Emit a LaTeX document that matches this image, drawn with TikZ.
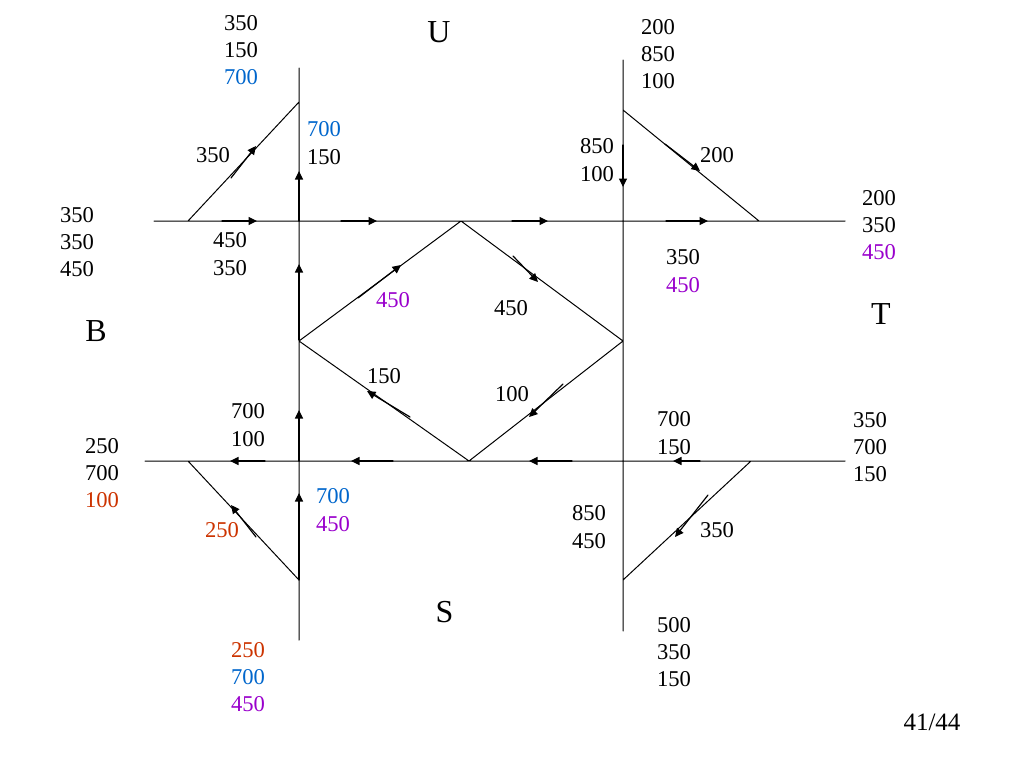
\documentclass[tikz,border=0pt]{standalone}
\usepackage{fontspec}
\setmainfont{Liberation Serif}
\usetikzlibrary{arrows.meta}
\definecolor{flowblue}{RGB}{0,102,204}
\definecolor{flowpurple}{RGB}{153,0,204}
\definecolor{flowred}{RGB}{204,51,0}
\tikzset{
	flow/.style={-{Triangle[length=8.5pt,width=8pt]}, line width=1.2pt},
	road/.style={line width=1pt},
	num/.style={font=\fontsize{22.6}{27.3}\selectfont, align=center, inner sep=0pt},
	zone/.style={font=\fontsize{32}{36}\selectfont, inner sep=0pt}
}
\begin{document}
\begin{tikzpicture}[x=1pt, y=-1pt, line join=round, line cap=round]
	\useasboundingbox (0,0) rectangle (1024,768);
	\def\cB{\color{flowblue}}
	\def\cP{\color{flowpurple}}
	\def\cR{\color{flowred}}
	\path
	(299,221) coordinate (NW)
	(623,221) coordinate (NE)
	(299,461) coordinate (SW)
	(623,461) coordinate (SE)
	(461,221) coordinate (DU)
	(623,341) coordinate (DT)
	(469,461) coordinate (DS)
	(299,341) coordinate (DB)
	;
	% roads
	\draw[road]
	(154,221)--(845,221) (145,461)--(845,461)
	(299,68)--(299,640) (623,60)--(623,631)
	(188,221)--(299,102) (623,110)--(759,221)
	(751,461)--(623,580) (299,580)--(188,461)
	(DU)--(DT)--(DS)--(DB)--(DU)
	;
	% arrows
	\foreach \xa/\ya/\xb/\yb in {
		222/221/257/221, 341/221/377/221, 512/221/548/221, 666/221/708/221,
		572/461/529/461, 393/461/351/461, 265/461/230/461, 700/461/673/461,
		299/221/299/171, 299/340/299/264, 299/461/299/410, 299/580/299/493,
		623/145/623/187,
		231/178/256/146, 665/144/700/171, 708/495/675/537, 256/537/231/505,
		358/298/401/265, 513/256/538/282, 563/384/529/417, 410/417/367/391}
	\draw[flow] (\xa,\ya)--(\xb,\yb);
	% flow labels
	\foreach \xa/\ya/\lab in {
		241/50/{350\\150\\{\cB 700}}, 658/54/{200\\850\\100}, 77/242/{350\\350\\450},
		879/225/{200\\350\\{\cP 450}}, 102/473/{250\\700\\{\cR 100}}, 870/447/{350\\700\\150},
		248/677/{{\cR 250}\\{\cB 700}\\{\cP 450}}, 674/652/{500\\350\\150},
		324/143/{{\cB 700}\\150}, 597/160/{850\\100}, 230/254/{450\\350}, 683/271/{350\\{\cP 450}},
		248/425/{700\\100}, 674/433/{700\\150}, 333/510/{{\cB 700}\\{\cP 450}}, 589/527/{850\\450},
		213/155/{350}, 717/155/{200}, 717/530/{350}, 222/530/{{\cR 250}},
		393/300/{{\cP 450}}, 511/308/{450}, 384/376/{150}, 512/394/{100}}
	\node[num] at (\xa,\ya) {\lab};
	\node[num, font=\fontsize{25}{27}\selectfont] (page) at (932,722) {41/44};
	% zones
	\node[zone] (U) at (439,32) {U};
	\node[zone] (T) at (881,314) {T};
	\node[zone] (S) at (444.5,612) {S};
	\node[zone] (B) at (96,331) {B};
\end{tikzpicture}
\end{document}
